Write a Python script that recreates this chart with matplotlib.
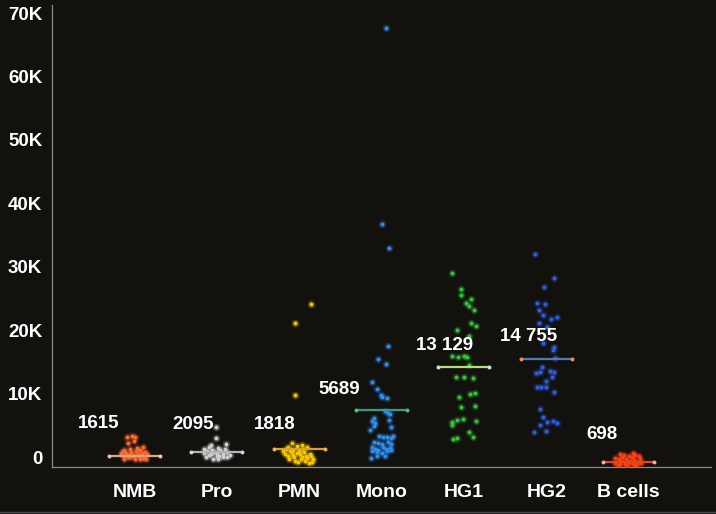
import matplotlib
matplotlib.use('Agg')
import matplotlib.pyplot as plt
from matplotlib.lines import Line2D

plt.rcParams['font.family'] = ['Liberation Sans', 'DejaVu Sans']

categories = ['NMB', 'Pro', 'PMN', 'Mono', 'HG1', 'HG2', 'B cells']
median_labels = ['1615', '2095', '1818', '5689', '13 129', '14 755', '698']
# height at which each group bar is drawn in the figure
line_levels = [240, 820, 1390, 7480, 14200, 15500, -660]

# values per cell, with the horizontal scatter offset
nmb_vals = [3200, 3400, 3200, 2650, 2230, 1610, 1290, 1100, 900, 700, 500, 300, 100, -200,
            800, 400, 0, 1000, 600, 200, -300, 1200, 700, 300, -100, 900, 500, 100, -300,
            400, -200, 1500]
nmb_jit = [-0.09, -0.03, 0.01, -0.01, -0.08, 0.11, -0.05, -0.12, -0.15, -0.10, -0.16, -0.12,
           -0.08, -0.13, -0.04, -0.02, -0.05, 0.02, 0.04, 0.00, 0.01, 0.07, 0.09, 0.06, 0.10,
           0.13, 0.15, 0.12, 0.07, -0.07, 0.14, 0.03]

pro_vals = [4850, 3000, 2000, 2100, 1450, 1600, 1300, 1000, 700, 400, 100, 1200, 800, 500, 200,
            -200, 1100, 600, 300, 0, 1300, 900, 400, 100, -300, 700]
pro_jit = [-0.01, -0.01, -0.07, 0.11, 0.02, -0.10, -0.15, -0.12, -0.16, -0.10, -0.13, -0.06,
           -0.03, -0.07, 0.00, -0.04, 0.04, 0.07, 0.03, 0.08, 0.10, 0.13, 0.16, 0.12, 0.02, 0.00]

pmn_vals = [24200, 21100, 9800, 2330, 1810, 1970, 1610, 1700, 1180, 760, 1400, 1000, 600, 200,
            -200, 1200, 800, 400, 0, -500, 1000, 500, 100, -300, -700, 900, 300, -100, -500,
            -800, 600, 200, -300, -700, 1300]
pmn_jit = [0.14, -0.05, -0.05, -0.09, -0.03, 0.03, 0.10, -0.13, -0.07, -0.02, -0.16, -0.19,
           -0.17, -0.14, -0.12, -0.11, -0.10, -0.08, -0.06, -0.05, 0.00, 0.01, 0.03, 0.02,
           -0.01, 0.06, 0.08, 0.10, 0.07, 0.12, 0.13, 0.15, 0.17, 0.16, 0.05]

mono_vals = [67600, 36700, 33000, 17600, 15500, 14700, 11900, 10800, 9800, 9500, 9400, 7300,
             7000, 6800, 6200, 5700, 5400, 4900, 4300, 5900, 4800, 3400, 3200, 3300, 3100, 3400,
             2500, 2300, 2100, 2400, 2200, 1700, 1400, 1200, 1600, 1300, 1500, 1000, 900, 700,
             1000, 1100, 300, 200, -100]
mono_jit = [0.06, 0.00, 0.09, 0.08, -0.04, 0.06, -0.11, -0.06, -0.01, 0.01, 0.07, 0.04, 0.08,
            0.10, -0.09, -0.12, -0.08, -0.09, -0.14, 0.09, 0.12, -0.03, 0.02, 0.07, 0.12, 0.14,
            -0.09, -0.04, 0.00, 0.08, 0.11, -0.12, -0.08, -0.04, 0.02, 0.05, 0.10, -0.11, -0.06,
            0.00, 0.07, 0.11, -0.06, 0.04, -0.13]

hg1_vals = [29100, 26500, 25600, 24900, 24300, 23800, 23200, 21200, 20700, 20000, 19150, 16000,
            15800, 16000, 15800, 14500, 12650, 12700, 12450, 9570, 10000, 10100, 8000, 8150,
            5640, 5910, 6060, 5750, 5120, 4060, 2900, 3000, 3180]
hg1_jit = [-0.14, -0.03, -0.04, 0.09, 0.02, 0.06, 0.12, 0.09, 0.15, -0.08, 0.06, -0.15, -0.07,
           0.00, 0.04, 0.06, -0.10, 0.00, 0.11, -0.06, 0.07, 0.13, -0.04, 0.13, -0.14, -0.08,
           -0.01, 0.15, -0.14, 0.06, -0.13, -0.08, 0.11]

hg2_vals = [32050, 28310, 26900, 24280, 24170, 23230, 22440, 21760, 22080, 21230, 20500, 17980,
            17350, 16930, 15620, 14200, 13670, 13510, 13260, 13410, 12720, 12090, 11150, 11050,
            11150, 10360, 7590, 6430, 5640, 5750, 5480, 5120, 4220, 3970]
hg2_jit = [-0.14, 0.10, -0.03, -0.11, -0.02, -0.09, -0.04, 0.06, 0.13, -0.09, 0.01, -0.04,
           0.10, 0.08, 0.11, -0.05, 0.04, 0.10, -0.13, -0.08, 0.07, 0.00, -0.11, -0.06, 0.00,
           0.10, -0.07, -0.04, 0.01, 0.08, 0.13, -0.08, 0.00, -0.15]

bcell_vals = [600, 650, 400, 300, 450, 200, -100, -300, -500, -200, -600, -400, -700, -300,
              -900, -1000, -1100, -900, -1100, -1000, -800, -1200, -1300, -1200, 0, 100]
bcell_jit = [-0.10, 0.05, -0.06, 0.00, 0.08, 0.12, -0.17, -0.12, -0.08, -0.03, 0.02, 0.06,
             0.10, 0.14, -0.16, -0.10, -0.04, 0.00, 0.05, 0.10, 0.15, -0.13, -0.02, 0.08,
             -0.08, 0.04]

values = [nmb_vals, pro_vals, pmn_vals, mono_vals, hg1_vals, hg2_vals, bcell_vals]
jitter = [nmb_jit, pro_jit, pmn_jit, mono_jit, hg1_jit, hg2_jit, bcell_jit]

point_colors = ['#ff6a2c', '#cfcfcf', '#f7c600', '#2b8ef0', '#35c43a', '#2f5fe0', '#ff3d12']
line_colors = ['#e0a585', '#b4b4b4', '#d9a030', '#2e9c86', '#b0dd80', '#4d7ab4', '#e2461f']
cap_colors = ['#f2c3a6', '#d6d6d6', '#e8b848', '#4ec46a', '#c8e0f0', '#f08a5a', '#f3aaa8']

# where the median text sits: offset from group centre, and height
label_dx = [-0.43, -0.29, -0.30, -0.51, -0.24, -0.22, -0.32]
label_y = [5280, 5120, 5240, 10630, 17560, 19130, 3650]

bg = '#13110e'
fig = plt.figure(figsize=(7.16, 5.14), dpi=100, facecolor=bg)
ax = fig.add_axes([52 / 716, 47 / 514, 659 / 716, 462 / 514], facecolor=bg)

for i, cat in enumerate(categories):
    xs = [i + d for d in jitter[i]]
    ax.scatter(xs, values[i], s=30, color=point_colors[i], alpha=0.25, lw=0, zorder=2)
    ax.scatter(xs, values[i], s=8, color=point_colors[i], lw=0, zorder=3)
    ax.plot([i - 0.31, i + 0.31], [line_levels[i]] * 2, color=line_colors[i], lw=1.6, zorder=4)
    ax.scatter([i - 0.31, i + 0.31], [line_levels[i]] * 2, s=8, color=cap_colors[i], lw=0, zorder=5)
    ax.text(i + label_dx[i], label_y[i], median_labels[i], color='white', fontsize=13.5,
            fontweight='bold', ha='center', va='center', zorder=6)

ax.set_xlim(-1.0, 7.0)
ax.set_ylim(-1500, 71260)
ax.set_xticks(range(len(categories)))
ax.set_xticklabels(categories)
ax.set_yticks(range(0, 70001, 10000))
ax.set_yticklabels(['0'] + [f'{k}K' for k in range(10, 71, 10)])
ax.tick_params(axis='both', length=0, colors='white', labelsize=13.5)
ax.tick_params(axis='x', pad=12, labelsize=14)
ax.tick_params(axis='y', pad=7)
for lab in ax.get_xticklabels() + ax.get_yticklabels():
    lab.set_fontweight('bold')

for side in ['top', 'right']:
    ax.spines[side].set_visible(False)
for side in ['left', 'bottom']:
    ax.spines[side].set_color('#8a8a8a')
    ax.spines[side].set_linewidth(0.9)

fig.add_artist(Line2D([0, 1], [0.004, 0.004], transform=fig.transFigure, color='#4a4a4a', lw=1))

fig.savefig('out.png', dpi=100, facecolor=bg)
